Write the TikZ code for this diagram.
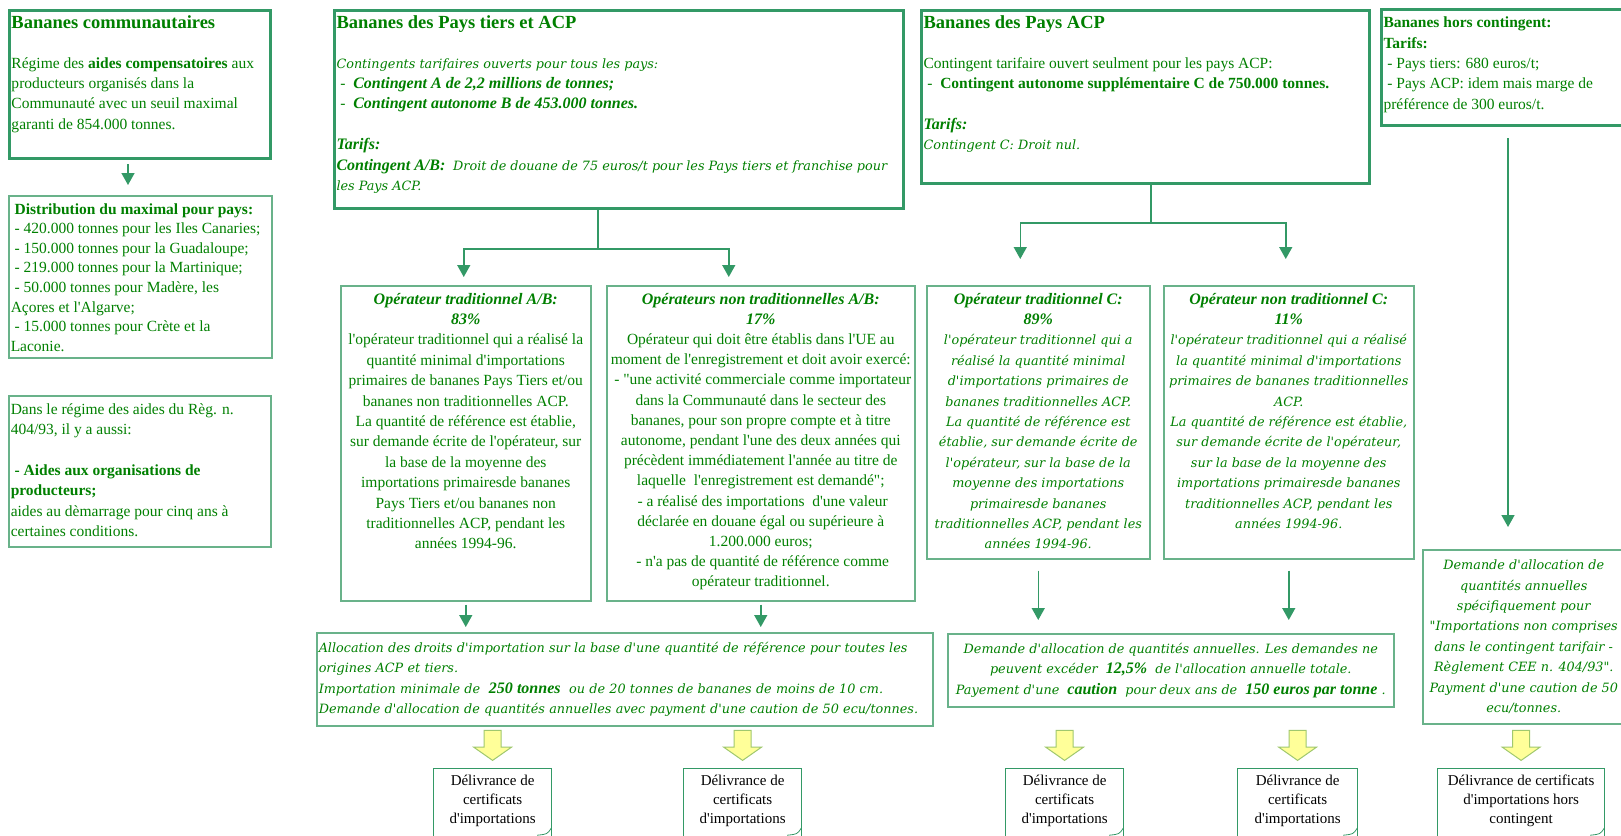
\documentclass[tikz,border=0pt]{standalone}
\usepackage{fontspec}
\setmainfont{Liberation Serif}[Ligatures=TeXOff]
\newfontfamily\wideitfam{DejaVu Serif}[Ligatures=TeXOff]
\usetikzlibrary{arrows.meta,shapes.arrows}

\definecolor{textgreen}{RGB}{0,128,0}
\definecolor{linegreen}{RGB}{51,153,102}
\definecolor{palegreen}{RGB}{105,178,138}
\definecolor{pfill}{RGB}{255,255,153}
\definecolor{pline}{RGB}{160,200,110}

\newcommand{\boxtext}[3]{\begin{minipage}[t][#2pt][t]{#1pt}\strut#3\end{minipage}}
\newcommand{\wi}{\fontsize{12.8}{20.4}\selectfont\wideitfam\itshape}
\newcommand{\bi}{\fontsize{16}{20.4}\selectfont\rmfamily\bfseries\itshape}
\newcommand{\titre}{\fontsize{18.5}{20.4}\selectfont\bfseries}
\newcommand{\tiret}{\hspace*{.25em}-\ }

\tikzset{
  thickbox/.style={draw=linegreen, line width=3pt, anchor=north west, inner xsep=2pt, inner ysep=4pt, text=textgreen, font={\fontsize{15.5}{20.4}\selectfont}},
  thinbox/.style={thickbox, draw=palegreen, line width=1.5pt},
  docbox/.style={draw=linegreen, line width=1.2pt, anchor=north west, inner xsep=2pt, inner ysep=4pt, text=black, font={\fontsize{15}{19}\selectfont}},
  stemline/.style={draw=linegreen, line width=1.5pt},
  flowarrow/.style={stemline, -{Triangle[width=13pt,length=12pt]}},
  fatarrow/.style={single arrow, shape border rotate=270, draw=pline, fill=pfill, line width=1pt, minimum height=30pt, inner sep=8pt, single arrow head extend=10.5pt, single arrow tip angle=110, anchor=tip},
  curl/.style={draw=linegreen, line width=.8pt}
}

\begin{document}
\begin{tikzpicture}[x=1pt,y=-1pt]
\useasboundingbox (0,0) rectangle (1621,835);
\fill[white] (0,0) rectangle (1621,835);

% bananes communautaires
\node[thickbox] (b1) at (8,9) {\boxtext{257}{140}{\raggedright{\titre Bananes communautaires}\\[19pt]
  Régime des \textbf{aides compensatoires} aux\\ producteurs organisés dans la\\ Communauté avec un seuil maximal\\ garanti de 854.000 tonnes.}};
\node[thinbox] (b2) at (8,195) {\boxtext{259}{154}{\fontsize{15.5}{19.6}\selectfont\raggedright
  \hspace*{.25em}\textbf{Distribution du maximal pour pays:}\\ \tiret 420.000 tonnes pour les Iles Canaries;\\
  \tiret 150.000 tonnes pour la Guadaloupe;\\ \tiret 219.000 tonnes pour la Martinique;\\
  \tiret 50.000 tonnes pour Madère, les\\ Açores et l'Algarve;\\ \tiret 15.000 tonnes pour Crète et la\\ Laconie.}};
\node[thinbox] (b3) at (8,395) {\boxtext{258}{143}{\raggedright Dans le régime des aides du Règ. n.\\ 404/93, il y a aussi:\\[20.4pt]
  \textbf{\tiret Aides aux organisations de}\\ \textbf{producteurs;}\\ aides au dèmarrage pour cinq ans à\\ certaines conditions.}};

% contingents
\node[thickbox] (b4) at (333,9) {\boxtext{565}{190}{\raggedright{\titre Bananes des Pays tiers et ACP}\\[19pt]
  {\wi Contingents tarifaires ouverts pour tous les pays:}\\ \tiret\ {\bi Contingent A de 2,2 millions de tonnes;}\\
  \tiret\ {\bi Contingent autonome B de 453.000 tonnes.}\\[20.4pt] {\bi Tarifs:}\\
  {\bi Contingent A/B:}~ {\wi Droit de douane de 75 euros/t pour les Pays tiers et franchise pour}\\ {\wi les Pays ACP.}}};
\node[thickbox] (b5) at (920,9) {\boxtext{444}{165}{\raggedright{\titre Bananes des Pays ACP}\\[19pt]
  Contingent tarifaire ouvert seulment pour les pays ACP:\\ \tiret\ \textbf{Contingent autonome supplémentaire C de 750.000 tonnes.}\\[20.4pt]
  {\bi Tarifs:}\\ {\wi Contingent C: Droit nul.}}};
\node[thickbox] (b6) at (1380,8) {\boxtext{250}{108}{\raggedright\textbf{Bananes hors contingent:}\\ \textbf{Tarifs:}\\
  \tiret Pays tiers: 680 euros/t;\\ \tiret Pays ACP: idem mais marge de\\ préférence de 300 euros/t.}};

% operateurs
\node[thinbox] (b7) at (340,285) {\boxtext{246}{307}{\centering{\bi Opérateur traditionnel A/B:\\ 83\%}\\
  l'opérateur traditionnel qui a réalisé la\\ quantité minimal d'importations\\ primaires de bananes Pays Tiers et/ou\\
  bananes non traditionnelles ACP.\\ La quantité de référence est établie,\\ sur demande écrite de l'opérateur, sur\\
  la base de la moyenne des\\ importations primairesde bananes\\ Pays Tiers et/ou bananes non\\
  traditionnelles ACP, pendant les\\ années 1994-96.}};
\node[thinbox] (b8) at (606,285) {\boxtext{304}{307}{\fontsize{15.5}{20.2}\selectfont\centering{\bi Opérateurs non traditionnelles A/B:\\ 17\%}\\
  Opérateur qui doit être établis dans l'UE au\\ moment de l'enregistrement et doit avoir exercé:\\
  \tiret"une activité commerciale comme importateur\\ dans la Communauté dans le secteur des\\
  bananes, pour son propre compte et à titre\\ autonome, pendant l'une des deux années qui\\
  précèdent immédiatement l'année au titre de\\ laquelle~ l'enregistrement est demandé";\\
  \tiret a réalisé des importations~ d'une valeur\\ déclarée en douane égal ou supérieure à\\ 1.200.000 euros;\\
  \tiret n'a pas de quantité de référence comme\\ opérateur traditionnel.}};
\node[thinbox] (b9) at (926,285) {\boxtext{219}{265}{\centering{\bi Opérateur traditionnel C:\\ 89\%}\\
  \wi l'opérateur traditionnel qui a\\ réalisé la quantité minimal\\ d'importations primaires de\\
  bananes traditionnelles ACP.\\ La quantité de référence est\\ établie, sur demande écrite de\\
  l'opérateur, sur la base de la\\ moyenne des importations\\ primairesde bananes\\
  traditionnelles ACP, pendant les\\ années 1994-96.}};
\node[thinbox] (b10) at (1163,285) {\boxtext{246}{265}{\centering{\bi Opérateur non traditionnel C:\\ 11\%}\\
  \wi l'opérateur traditionnel qui a réalisé\\ la quantité minimal d'importations\\ primaires de bananes traditionnelles\\
  ACP.\\ La quantité de référence est établie,\\ sur demande écrite de l'opérateur,\\ sur la base de la moyenne des\\
  importations primairesde bananes\\ traditionnelles ACP, pendant les\\ années 1994-96.}};

% demandes
\node[thinbox, font=\wi, align=left, text width=612pt, minimum height=93pt] (b12) at (316,632)
  {Allocation des droits d'importation sur la base d'une quantité de référence pour toutes les\\ origines ACP et tiers.\\
   Importation minimale de~ {\bi 250 tonnes}~ ou de 20 tonnes de bananes de moins de 10 cm.\\
   Demande d'allocation de quantités annuelles avec payment d'une caution de 50 ecu/tonnes.};
\node[thinbox, font=\wi, align=center, minimum width=446pt, minimum height=73pt] (b13) at (947,633)
  {Demande d'allocation de quantités annuelles. Les demandes ne\\ peuvent excéder~ {\bi 12,5\%}~ de l'allocation annuelle totale.\\
   Payement d'une~ {\bi caution}~ pour deux ans de~ {\bi 150 euros par tonne}\ .};
\node[thinbox, font=\wi, align=center, inner xsep=1pt, minimum width=202pt, minimum height=174pt] (b11) at (1422,549)
  {Demande d'allocation de\\ quantités annuelles\\ spécifiquement pour\\ "Importations non comprises\\
   dans le contingent tarifair -\\ Règlement CEE n. 404/93".\\ Payment d'une caution de 50\\ ecu/tonnes.};

% certificats
\node[docbox] (d1) at (433,768) {\boxtext{114}{60}{\centering Délivrance de\\ certificats\\ d'importations}};
\node[docbox] (d2) at (683,768) {\boxtext{114}{60}{\centering Délivrance de\\ certificats\\ d'importations}};
\node[docbox] (d3) at (1005,768) {\boxtext{114}{60}{\centering Délivrance de\\ certificats\\ d'importations}};
\node[docbox] (d4) at (1237,768) {\boxtext{116}{60}{\centering Délivrance de\\ certificats\\ d'importations}};
\node[docbox] (d5) at (1437,768) {\boxtext{163}{60}{\centering Délivrance de certificats\\ d'importations hors\\ contingent}};

% fleches
\coordinate (c1) at (128,0);
\coordinate (ab) at (598,249);
\coordinate (cc) at (1151,223);
\coordinate (hc) at (1508,0);
\draw[flowarrow, shorten <=4pt, shorten >=10pt] (b1.south -| c1) -- (b2.north -| c1);
\draw[stemline] (b4.south -| ab) -- (ab);
\draw[flowarrow, shorten >=8pt] (ab) -| ([xshift=-2pt]b7.north);
\draw[flowarrow, shorten >=8pt] (ab) -| ([xshift=-32pt]b8.north);
\draw[stemline] (b5.south -| cc) -- (cc);
\draw[flowarrow, shorten >=26pt] (cc) -| ([xshift=-18pt]b9.north);
\draw[flowarrow, shorten >=26pt] (cc) -| ([xshift=-3pt]b10.north);
\draw[flowarrow, shorten <=11pt, shorten >=22pt] (b6.south -| hc) -- (b11.north -| hc);
\draw[flowarrow, shorten <=3pt, shorten >=5pt] (b7.south) -- (b7.south |- b12.north);
\draw[flowarrow, shorten <=3pt, shorten >=5pt] (b8.south) -- (b8.south |- b12.north);
\draw[flowarrow, shorten <=11pt, shorten >=13pt] (b9.south) -- (b9.south |- b13.north);
\draw[flowarrow, shorten <=11pt, shorten >=13pt] (b10.south) -- (b10.south |- b13.north);
\foreach \d in {d1,d2,d3,d4,d5} {
  \node[fatarrow] (y\d) at ([yshift=7pt]\d.north) {};
  \draw[curl] ([shift={(-15,-2)}]\d.south east) .. controls ([shift={(-5,-3)}]\d.south east) .. ([shift={(-1,-9)}]\d.south east);
}
\end{tikzpicture}
\end{document}
